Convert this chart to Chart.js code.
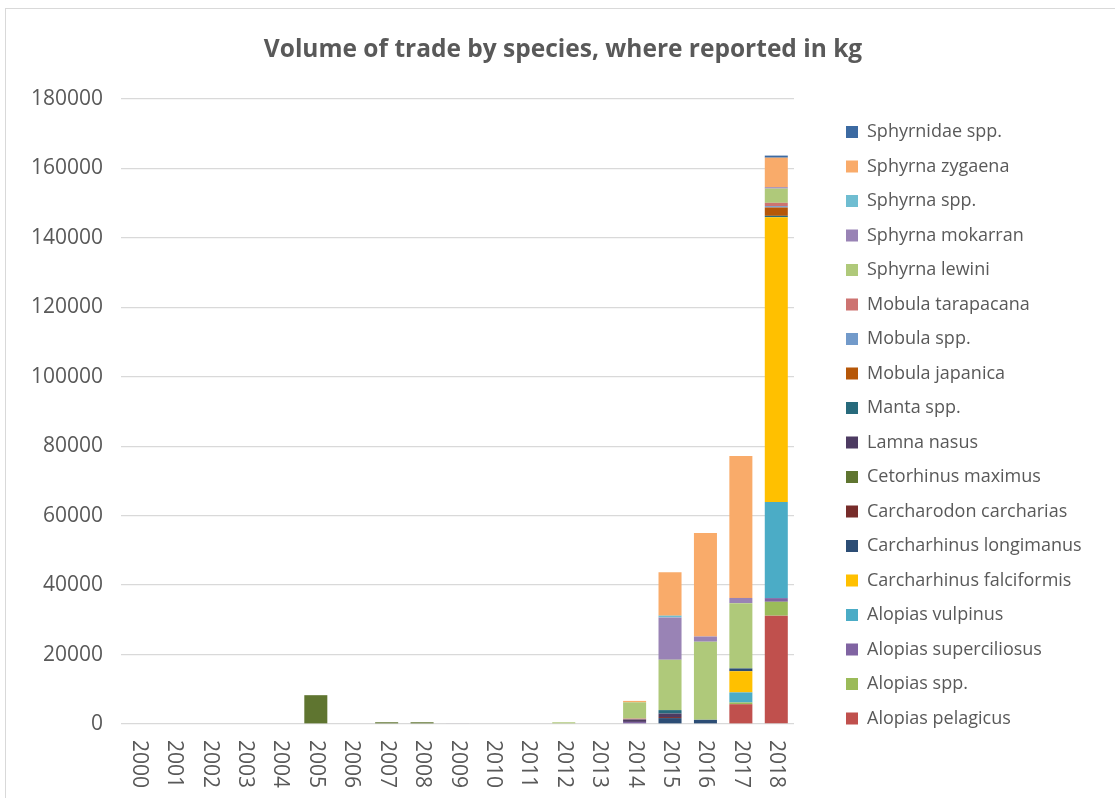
<!DOCTYPE html>
<html>
<head>
<meta charset="utf-8">
<title>Volume of trade by species</title>
<script src="https://cdn.jsdelivr.net/npm/chart.js@4.4.1/dist/chart.umd.min.js"></script>
<style>
  html, body { margin: 0; padding: 0; background: #ffffff; overflow: hidden; }
  #frame {
    position: absolute; left: 5px; top: 8px; width: 1115px; height: 815px;
    border-left: 1px solid #d9d9d9; border-top: 1px solid #d9d9d9; background: #ffffff;
  }
  #chart { display: block; width: 1110px; height: 809px; }
</style>
</head>
<body>
<div id="frame"><canvas id="chart" width="1110" height="809"></canvas></div>
<script>
// Years on the category axis
const years = ['2000','2001','2002','2003','2004','2005','2006','2007','2008','2009',
               '2010','2011','2012','2013','2014','2015','2016','2017','2018'];

// Traded volume in kg per species, one value per year (2000 … 2018)
const alopiasPelagicus       = [0,0,0,0,0,0,0,0,0,0,0,0,0,0,0,0,0,5700,31200];
const alopiasSpp             = [0,0,0,0,0,0,0,0,0,0,0,0,0,0,0,0,0,500,4000];
const alopiasSuperciliosus   = [0,0,0,0,0,0,0,0,0,0,0,0,0,0,600,0,0,0,1050];
const alopiasVulpinus        = [0,0,0,0,0,0,0,0,0,0,0,0,0,0,0,0,0,2900,27700];
const carcharhinusFalciformis= [0,0,0,0,0,0,0,0,0,0,0,0,0,0,0,0,0,6100,82000];
const carcharhinusLongimanus = [0,0,0,0,0,0,0,0,0,0,0,0,0,0,0,1700,1200,800,0];
const carcharodonCarcharias  = [0,0,0,0,0,0,0,0,0,0,0,0,0,0,0,300,0,0,0];
const cetorhinusMaximus      = [0,0,0,0,0,8300,0,500,500,0,0,0,0,0,0,0,0,0,0];
const lamnaNasus             = [0,0,0,0,0,0,0,0,0,0,0,0,0,0,700,1000,0,0,0];
const mantaSpp               = [0,0,0,0,0,0,0,0,0,0,0,0,0,0,0,1000,0,0,400];
const mobulaJapanica         = [0,0,0,0,0,0,0,0,0,0,0,0,0,0,0,0,0,0,2400];
const mobulaSpp              = [0,0,0,0,0,0,0,0,0,0,0,0,0,0,0,0,0,0,400];
const mobulaTarapacana       = [0,0,0,0,0,0,0,0,0,0,0,0,0,0,250,0,0,0,950];
const sphyrnaLewini          = [0,0,0,0,0,0,0,0,0,0,0,0,500,0,4700,14500,22500,18800,4100];
const sphyrnaMokarran        = [0,0,0,0,0,0,0,0,0,200,0,0,0,0,0,12200,1500,1500,400];
const sphyrnaSpp             = [0,0,0,0,0,0,0,0,0,0,0,0,0,0,0,500,0,0,0];
const sphyrnaZygaena         = [0,0,0,0,0,0,0,0,0,0,0,0,0,0,400,12500,29800,40900,8500];
const sphyrnidaeSpp          = [0,0,0,0,0,0,0,0,0,0,0,0,0,0,0,0,0,0,600];

// Species names, stacked from the bottom of each column upwards
const speciesNames = [
  'Alopias pelagicus', 'Alopias spp.', 'Alopias superciliosus', 'Alopias vulpinus',
  'Carcharhinus falciformis', 'Carcharhinus longimanus', 'Carcharodon carcharias',
  'Cetorhinus maximus', 'Lamna nasus', 'Manta spp.', 'Mobula japanica', 'Mobula spp.',
  'Mobula tarapacana', 'Sphyrna lewini', 'Sphyrna mokarran', 'Sphyrna spp.',
  'Sphyrna zygaena', 'Sphyrnidae spp.'
];
const speciesValues = [
  alopiasPelagicus, alopiasSpp, alopiasSuperciliosus, alopiasVulpinus,
  carcharhinusFalciformis, carcharhinusLongimanus, carcharodonCarcharias,
  cetorhinusMaximus, lamnaNasus, mantaSpp, mobulaJapanica, mobulaSpp,
  mobulaTarapacana, sphyrnaLewini, sphyrnaMokarran, sphyrnaSpp,
  sphyrnaZygaena, sphyrnidaeSpp
];
const speciesColors = [
  '#c0504d', '#9bbb59', '#8064a2', '#4bacc6',
  '#ffc000', '#2c4d75', '#772c2a',
  '#5f7530', '#4d3b62', '#276a7c', '#b65708', '#729aca',
  '#cd7371', '#afc97a', '#9983b5', '#6fbdd1',
  '#f9ab6a', '#3c6aa2'
];

const textColor = '#595959';
const gridColor = '#d9d9d9';
const fontFamily = '"Open Sans", "Liberation Sans", sans-serif';

// Year labels written top-to-bottom underneath each column
const verticalYearLabels = {
  id: 'verticalYearLabels',
  afterDraw(chart) {
    const xScale = chart.scales.x;
    const ctx = chart.ctx;
    ctx.save();
    ctx.fillStyle = textColor;
    ctx.font = '21px ' + fontFamily;
    ctx.textAlign = 'left';
    ctx.textBaseline = 'middle';
    years.forEach((label, i) => {
      const x = xScale.getPixelForValue(i);
      ctx.save();
      ctx.translate(x, chart.chartArea.bottom + 16);
      ctx.rotate(Math.PI / 2);
      ctx.fillText(label, 0, 0);
      ctx.restore();
    });
    ctx.restore();
  }
};

// Gives the legend column a fixed width so the key sits at a set place
const legendWidth = {
  id: 'legendWidth',
  beforeLayout(chart, args, opts) {
    const legend = chart.legend;
    if (legend && !legend._fixedWidth) {
      const fit = legend.fit;
      legend.fit = function () {
        fit.call(this);
        this.width = opts.width;
      };
      legend._fixedWidth = true;
    }
  }
};

new Chart(document.getElementById('chart'), {
  type: 'bar',
  data: {
    labels: years,
    datasets: speciesNames.map((name, i) => ({
      label: name,
      data: speciesValues[i],
      backgroundColor: speciesColors[i],
      borderWidth: 0,
      barPercentage: 0.65,
      categoryPercentage: 1.0
    }))
  },
  options: {
    responsive: false,
    animation: false,
    devicePixelRatio: 1,
    layout: { padding: { left: 4, right: 0, top: 23.5, bottom: 0 } },
    plugins: {
      title: {
        display: true,
        text: 'Volume of trade by species, where reported in kg',
        color: textColor,
        font: { family: fontFamily, size: 24.5, weight: 'bold' },
        padding: { top: 2.8, bottom: 34.3 }
      },
      legend: {
        display: true,
        position: 'right',
        reverse: true,
        labels: {
          color: textColor,
          font: { family: fontFamily, size: 18 },
          boxWidth: 12,
          boxHeight: 12,
          padding: 16.5
        }
      },
      legendWidth: { width: 286.5 },
      tooltip: { enabled: false }
    },
    scales: {
      x: {
        stacked: true,
        grid: { display: false },
        border: { display: false },
        ticks: { display: false },
        afterFit(scale) { scale.height = 94; }
      },
      y: {
        stacked: true,
        min: 0,
        max: 180000,
        border: { display: false },
        grid: { color: gridColor, lineWidth: 1.3, drawTicks: false },
        ticks: {
          stepSize: 20000,
          padding: 18,
          color: textColor,
          font: { family: fontFamily, size: 21 },
          callback: (v) => String(v)
        },
        afterFit(scale) { scale.width = 111; }
      },
      // empty strip between the plot and the legend
      legendGap: {
        type: 'linear',
        position: 'right',
        display: true,
        grid: { display: false },
        border: { display: false },
        ticks: { display: false },
        afterFit(scale) { scale.width = 35.5; }
      }
    }
  },
  plugins: [verticalYearLabels, legendWidth]
});
</script>
</body>
</html>
